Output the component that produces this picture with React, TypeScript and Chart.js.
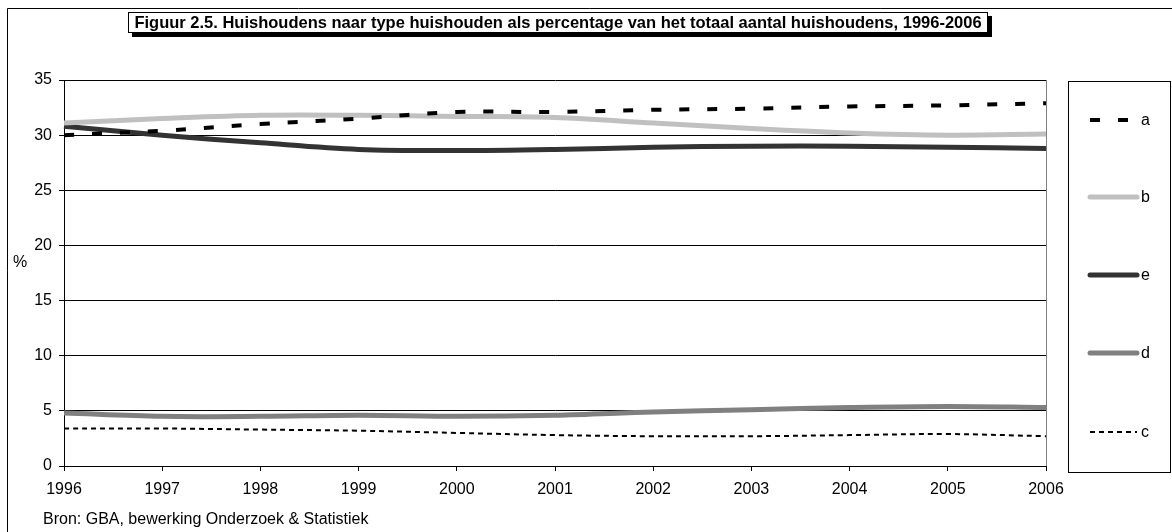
import React, { useEffect, useRef } from "react";
import { Chart, registerables } from "chart.js";

Chart.register(...registerables);

const years = ["1996", "1997", "1998", "1999", "2000", "2001", "2002", "2003", "2004", "2005", "2006"];
const seriesA = [30.0, 30.4, 31.0, 31.5, 32.1, 32.1, 32.3, 32.4, 32.6, 32.7, 32.9];
const seriesB = [31.1, 31.5, 31.8, 31.8, 31.7, 31.6, 31.1, 30.6, 30.2, 30.0, 30.1];
const seriesE = [30.8, 30.0, 29.3, 28.7, 28.6, 28.7, 28.9, 29.0, 29.0, 28.9, 28.8];
const seriesD = [4.8, 4.5, 4.5, 4.6, 4.5, 4.6, 4.9, 5.1, 5.3, 5.4, 5.3];
const seriesC = [3.4, 3.4, 3.3, 3.2, 3.0, 2.8, 2.7, 2.7, 2.8, 2.9, 2.7];
const yTicks = [0, 5, 10, 15, 20, 25, 30, 35];
const legendOrder = ["a", "b", "e", "d", "c"];

const titleText = "Figuur 2.5. Huishoudens naar type huishouden als percentage van het totaal aantal huishoudens, 1996-2006";
const sourceText = "Bron: GBA, bewerking Onderzoek & Statistiek";
const yAxisLabel = "%";

const FONT = "'Liberation Sans', Arial, sans-serif";

const decor = {
  id: "decor",
  beforeDraw(chart: any) {
    const ctx = chart.ctx;
    ctx.save();
    ctx.fillStyle = "#ffffff";
    ctx.fillRect(0, 0, chart.width, chart.height);
    ctx.restore();
  },
  afterDraw(chart: any) {
    const ctx = chart.ctx;
    const area = chart.chartArea;
    ctx.save();
    // right border of plot area
    ctx.strokeStyle = "#808080";
    ctx.lineWidth = 1;
    ctx.beginPath();
    ctx.moveTo(Math.round(area.right) + 0.5, area.top);
    ctx.lineTo(Math.round(area.right) + 0.5, area.bottom);
    ctx.stroke();

    // outer frame (left and top)
    ctx.strokeStyle = "#000000";
    ctx.beginPath();
    ctx.moveTo(7.5, chart.height);
    ctx.lineTo(7.5, 8.5);
    ctx.lineTo(chart.width, 8.5);
    ctx.stroke();

    // title box with shadow
    const tx = 128, ty = 12, tw = 860, th = 21;
    ctx.fillStyle = "#000000";
    ctx.fillRect(tx + 4, ty + 4, tw, th);
    ctx.fillStyle = "#ffffff";
    ctx.fillRect(tx, ty, tw, th);
    ctx.strokeStyle = "#000000";
    ctx.strokeRect(tx + 0.5, ty + 0.5, tw - 1, th - 1);
    ctx.fillStyle = "#000000";
    ctx.font = `bold 16.5px ${FONT}`;
    ctx.textAlign = "center";
    ctx.textBaseline = "middle";
    ctx.fillText(titleText, tx + tw / 2, ty + th / 2 + 1);

    // y-axis label
    ctx.font = `16px ${FONT}`;
    ctx.textAlign = "center";
    ctx.fillText(yAxisLabel, 20, 263);

    // source
    ctx.textAlign = "left";
    ctx.fillText(sourceText, 43, 520);

    // legend
    const lx = 1068, ly = 81, lw = 102, lh = 391;
    ctx.strokeStyle = "#000000";
    ctx.lineWidth = 1;
    ctx.strokeRect(lx + 0.5, ly + 0.5, lw, lh);
    const itemYs = [120, 197, 275, 353, 432];
    legendOrder.forEach((name, i) => {
      const ds = chart.data.datasets.find((d: any) => d.label === name);
      if (!ds) return;
      const y = itemYs[i];
      ctx.save();
      ctx.strokeStyle = ds.borderColor;
      ctx.lineWidth = ds.borderWidth;
      ctx.lineCap = ds.borderDash && ds.borderDash.length ? "butt" : "round";
      ctx.setLineDash(ds.borderDash || []);
      ctx.beginPath();
      ctx.moveTo(1090, y);
      ctx.lineTo(1137, y);
      ctx.stroke();
      ctx.restore();
      ctx.fillStyle = "#000000";
      ctx.font = `16px ${FONT}`;
      ctx.textAlign = "left";
      ctx.textBaseline = "middle";
      ctx.fillText(name, 1141, y + 1);
    });
    ctx.restore();
  },
};

export default function App() {
  const ref = useRef<HTMLCanvasElement>(null);
  useEffect(() => {
    const chart = new Chart(ref.current as HTMLCanvasElement, {
      type: "line",
      data: {
        labels: years,
        datasets: [
          { label: "a", data: seriesA, borderColor: "#000000", borderWidth: 4, borderDash: [10, 18] },
          { label: "b", data: seriesB, borderColor: "#c0c0c0", borderWidth: 5 },
          { label: "e", data: seriesE, borderColor: "#333333", borderWidth: 5 },
          { label: "d", data: seriesD, borderColor: "#808080", borderWidth: 5 },
          { label: "c", data: seriesC, borderColor: "#000000", borderWidth: 2, borderDash: [5, 4] },
        ],
      },
      options: {
        animation: false,
        responsive: false,
        devicePixelRatio: 1,
        layout: { padding: { left: 30, top: 80, right: 126, bottom: 26 } },
        elements: {
          point: { radius: 0 },
          line: { tension: 0.35, fill: false, borderCapStyle: "butt" },
        },
        plugins: {
          legend: { display: false },
          tooltip: { enabled: false },
          title: { display: false },
        },
        scales: {
          x: {
            type: "category",
            offset: false,
            afterFit: (scale: any) => {
              scale.height = 40;
            },
            grid: {
              display: true,
              drawOnChartArea: false,
              drawTicks: true,
              tickLength: 5,
              color: "#000000",
              tickColor: "#000000",
            },
            border: { display: true, color: "#000000", width: 1 },
            ticks: {
              color: "#000000",
              font: { family: FONT, size: 16 },
              padding: 9,
              maxRotation: 0,
              autoSkip: false,
            },
          },
          y: {
            min: 0,
            max: 35,
            afterFit: (scale: any) => {
              scale.width = 34;
            },
            afterBuildTicks: (scale: any) => {
              scale.ticks = yTicks.map((v) => ({ value: v }));
            },
            grid: {
              color: "#000000",
              lineWidth: 1,
              drawTicks: true,
              tickLength: 5,
              tickColor: "#000000",
            },
            border: { display: true, color: "#000000", width: 1 },
            ticks: {
              color: "#000000",
              font: { family: FONT, size: 16 },
              padding: 7,
            },
          },
        },
      },
      plugins: [decor],
    } as any);
    return () => chart.destroy();
  }, []);
  return (
    <canvas
      ref={ref}
      width={1172}
      height={532}
      style={{ position: "fixed", left: 0, top: 0, display: "block" }}
    />
  );
}
